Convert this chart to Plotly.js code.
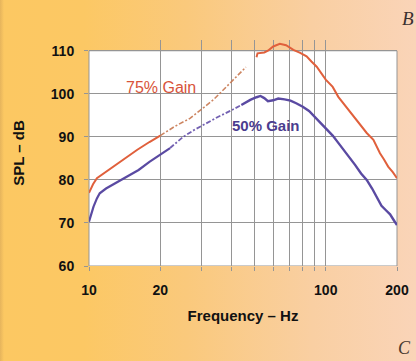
<!DOCTYPE html>
<html><head><meta charset="utf-8">
<script src="https://cdn.plot.ly/plotly-3.0.1.min.js"></script>
<style>
html,body{margin:0;padding:0;}
#chart{width:416px;height:361px;background:linear-gradient(to right,#e6b45c 0px,#fcc862 4px,#fcc864 20%,#fac97c 45%,#f9cfa2 75%,#fad4b8 100%);}
</style></head><body><div id="chart"></div>
<script>
// 75% Gain
const freq75Solid1 = [10, 10.4, 10.8, 12, 13, 14, 16, 18, 20];
const spl75Solid1  = [77, 79, 80.4, 82.2, 83.6, 84.9, 87, 88.8, 90.3];
const freq75Dash   = [20, 23, 26.7, 30, 33.5, 36, 39.4, 43, 46];
const spl75Dash    = [90.3, 92.4, 94.3, 96.4, 98.6, 100.3, 102.5, 104.5, 106.2];
const freq75Solid2 = [51, 51.5, 55, 57, 60, 64, 68, 73, 78, 83, 87, 91.6, 100, 107, 113, 118.7, 126, 135, 142, 149, 159, 169.5, 176, 183.5, 192, 200];
const spl75Solid2  = [108.5, 109.4, 109.6, 110, 111, 111.6, 111.3, 110.2, 109.5, 108.7, 107.5, 106.3, 103.3, 101.6, 99.3, 97.8, 96.0, 94.0, 92.5, 90.9, 89.3, 86.2, 84.8, 83.1, 81.8, 80.4];
// 50% Gain
const freq50Solid1 = [10, 10.2, 10.45, 10.8, 11.1, 11.8, 12.5, 13.7, 15, 16.2, 18, 20.3, 22];
const spl50Solid1  = [70.3, 72, 73.8, 75.7, 76.9, 78, 78.8, 80, 81.3, 82.3, 84.2, 86.2, 87.4];
const freq50Dash   = [22, 25, 28, 31.4, 35, 40.7, 44];
const spl50Dash    = [87.4, 90, 91.7, 93.2, 94.6, 96.4, 97.4];
const freq50Solid2 = [44, 48, 51, 53, 55, 57, 60, 63, 67, 71, 75, 80, 85, 90, 95, 100, 107, 113, 119, 126, 133, 141, 149, 157, 165, 172, 180, 187, 193, 200];
const spl50Solid2  = [97.4, 98.6, 99.2, 99.5, 99.0, 98.3, 98.5, 98.9, 98.7, 98.4, 97.8, 97.0, 96.0, 94.6, 93.4, 92.0, 90.3, 88.6, 87.0, 85.4, 83.5, 81.5, 80.0, 78.0, 75.9, 74.0, 72.9, 72.0, 70.8, 69.5];

const xTickVals = [10, 20, 30, 40, 50, 60, 70, 80, 90, 100, 200];
const xTickText = ['10', '20', '', '', '', '', '', '', '', '100', '200'];
const yTickVals = [60, 70, 80, 90, 100, 110];

const c75 = '#e0603c', c75d = 'rgba(200,120,80,0.9)';
const c50 = '#5a4aa2', c50d = 'rgba(100,80,170,0.9)';

const traces = [
  {x: freq75Solid1, y: spl75Solid1, mode: 'lines', line: {color: c75, width: 2}},
  {x: freq75Dash, y: spl75Dash, mode: 'lines', line: {color: c75d, width: 1.6, dash: '5px,2px,2px,2px'}},
  {x: freq75Solid2, y: spl75Solid2, mode: 'lines', line: {color: c75, width: 2}},
  {x: freq50Solid1, y: spl50Solid1, mode: 'lines', line: {color: c50, width: 2.2}},
  {x: freq50Dash, y: spl50Dash, mode: 'lines', line: {color: c50d, width: 1.8, dash: '5px,2px,2px,2px'}},
  {x: freq50Solid2, y: spl50Solid2, mode: 'lines', line: {color: c50, width: 2.4}}
];

const tickFont = {family: 'Liberation Sans, Arial, sans-serif', size: 14, color: '#111', weight: 'bold'};
const layout = {
  width: 416, height: 361,
  margin: {l: 89, r: 19, t: 40, b: 95},
  paper_bgcolor: 'rgba(0,0,0,0)', plot_bgcolor: 'rgba(0,0,0,0)',
  showlegend: false,
  xaxis: {
    type: 'log', range: [1, Math.log10(200)],
    tickvals: xTickVals, ticktext: xTickText,
    showgrid: true, gridcolor: '#959595', gridwidth: 1,
    ticks: 'outside', ticklen: 4, tickcolor: '#959595',
    ticklabelstandoff: 7,
    tickfont: tickFont, zeroline: false, showline: false,
    title: {text: 'Frequency – Hz', font: {family: 'Liberation Sans, Arial, sans-serif', size: 15, color: '#111', weight: 'bold'}, standoff: 13}
  },
  yaxis: {
    range: [60, 112.5],
    tickvals: yTickVals,
    showgrid: true, gridcolor: '#959595', gridwidth: 1,
    ticks: 'outside', ticklen: 4, tickcolor: '#959595',
    ticklabelstandoff: 7,
    tickfont: tickFont, zeroline: false, showline: false,
    title: {text: 'SPL – dB', font: {family: 'Liberation Sans, Arial, sans-serif', size: 15, color: '#111', weight: 'bold'}, standoff: 22}
  },
  shapes: [
    {type: 'rect', layer: 'below', xref: 'paper', yref: 'y', x0: 0, x1: 1, y0: 60, y1: 110,
     fillcolor: '#ffffff', line: {color: '#959595', width: 1}}
  ],
  annotations: [
    {text: '75% Gain', xref: 'paper', yref: 'paper', x: 0.234, y: 0.792, xanchor: 'center', yanchor: 'middle', showarrow: false,
     font: {family: 'Liberation Sans, Arial, sans-serif', size: 16, color: '#d8533a'}},
    {text: '50% Gain', xref: 'paper', yref: 'paper', x: 0.575, y: 0.621, xanchor: 'center', yanchor: 'middle', showarrow: false,
     font: {family: 'Liberation Sans, Arial, sans-serif', size: 15, color: '#4b3d8f', weight: 'bold'}},
    {text: 'B', xref: 'paper', yref: 'paper', x: (407.7 - 89) / 308, y: (266 - 19) / 226, xanchor: 'center', yanchor: 'middle', showarrow: false,
     font: {family: 'Liberation Serif, serif', size: 19, color: '#3a3030', style: 'italic'}},
    {text: 'C', xref: 'paper', yref: 'paper', x: (404 - 89) / 308, y: (266 - 348) / 226, xanchor: 'center', yanchor: 'middle', showarrow: false,
     font: {family: 'Liberation Serif, serif', size: 18, color: '#4a3a30', style: 'italic'}}
  ]
};

Plotly.newPlot('chart', traces, layout, {displayModeBar: false, staticPlot: true});
</script></body></html>
